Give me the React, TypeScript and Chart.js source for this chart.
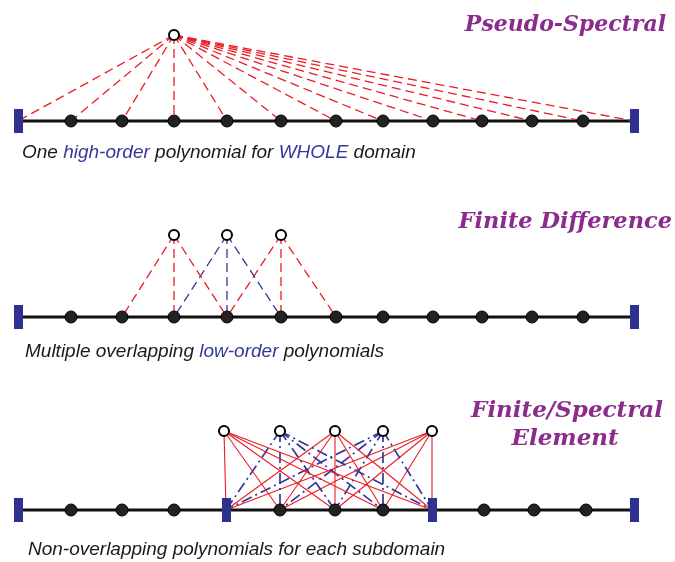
import React, { useEffect, useRef } from "react";
import { Chart, registerables } from "chart.js";

Chart.register(...registerables);

// ---- diagram data (diagram units, x to the right, y downward) ----
const domainEnds = [18, 634];
const gridNodes = [71, 122, 174, 227, 281, 336, 383, 433, 482, 532, 583];

// Panel 1: pseudo-spectral
const psAxisY = 121;
const psApex = { x: 174, y: 35 };

// Panel 2: finite difference
const fdAxisY = 317;
const fdTopY = 235;
const fdCenters = [174, 227, 281];
const fdStencils = [
  [122, 174, 227],
  [174, 227, 281],
  [227, 281, 336],
];

// Panel 3: finite / spectral element
const feAxisY = 510;
const feTopY = 431;
const feElementEnds = [226, 432];
const feInterior = [280, 335, 383];
const feOuterNodes = [71, 122, 174, 484, 534, 586];
const feTopX = [224, 280, 335, 383, 432];
const feTargets = [226, 280, 335, 383, 432];

const RED = "#ec1c24";
const BLUE = "#34399a";
const DARKBLUE = "#2e3192";
const PURPLE = "#8b2b8c";

function makeBar(): HTMLCanvasElement {
  const c = document.createElement("canvas");
  c.width = 9;
  c.height = 24;
  const g = c.getContext("2d")!;
  g.fillStyle = DARKBLUE;
  g.fillRect(0, 0, 9, 24);
  return c;
}

const textPlugin = {
  id: "diagramText",
  afterDraw(chart: any) {
    const ctx = chart.ctx;
    ctx.save();
    ctx.fillStyle = PURPLE;
    ctx.textBaseline = "alphabetic";
    ctx.textAlign = "right";
    ctx.font = "italic bold 22px 'DejaVu Serif'";
    ctx.fillText("Pseudo-Spectral", 666, 31);
    ctx.font = "italic bold 22.5px 'DejaVu Serif'";
    ctx.fillText("Finite Difference", 672, 228);
    ctx.textAlign = "center";
    ctx.font = "italic bold 23px 'DejaVu Serif'";
    ctx.fillText("Finite/Spectral", 567, 417);
    ctx.fillText("Element", 565, 445);

    ctx.textAlign = "left";
    ctx.font = "italic 19px 'Liberation Sans'";
    const runs = (parts: [string, string][], x: number, y: number) => {
      let cx = x;
      for (const [t, col] of parts) {
        ctx.fillStyle = col;
        ctx.fillText(t, cx, y);
        cx += ctx.measureText(t).width;
      }
    };
    const K = "#1a1a1a";
    runs(
      [
        ["One ", K],
        ["high-order", BLUE],
        [" polynomial for ", K],
        ["WHOLE", BLUE],
        [" domain", K],
      ],
      22,
      158
    );
    runs(
      [
        ["Multiple overlapping ", K],
        ["low-order", BLUE],
        [" polynomials", K],
      ],
      25,
      357
    );
    runs([["Non-overlapping polynomials for each subdomain", K]], 28, 555);
    ctx.restore();
  },
};

function seg(x1: number, y1: number, x2: number, y2: number, color: string, width: number, dash: number[], order: number) {
  return {
    type: "line",
    data: [
      { x: x1, y: y1 },
      { x: x2, y: y2 },
    ],
    borderColor: color,
    borderWidth: width,
    borderDash: dash,
    pointRadius: 0,
    showLine: true,
    fill: false,
    order,
    clip: false,
  };
}

export default function App() {
  const ref = useRef<HTMLCanvasElement>(null);
  useEffect(() => {
    const bar = makeBar();
    const datasets: any[] = [];
    const axis = (y: number) => seg(domainEnds[0], y, domainEnds[1], y, "#111", 3, [], 3);
    const dots = (xs: number[], y: number) => ({
      type: "scatter",
      data: xs.map((x) => ({ x, y })),
      pointRadius: 6,
      pointBackgroundColor: "#222",
      pointBorderColor: "#000",
      pointBorderWidth: 1,
      order: 0,
      clip: false,
    });
    const opens = (xs: number[], y: number) => ({
      type: "scatter",
      data: xs.map((x) => ({ x, y })),
      pointRadius: 5,
      pointBackgroundColor: "#fff",
      pointBorderColor: "#000",
      pointBorderWidth: 2,
      order: 0,
      clip: false,
    });
    const bars = (xs: number[], y: number) => ({
      type: "scatter",
      data: xs.map((x) => ({ x, y })),
      pointStyle: bar,
      pointRadius: 12,
      order: 1,
      clip: false,
    });

    // Panel 1
    datasets.push(axis(psAxisY));
    [domainEnds[0], ...gridNodes, domainEnds[1]].forEach((x) =>
      datasets.push(seg(psApex.x, psApex.y, x, psAxisY, RED, 1.3, [9, 5], 2))
    );
    datasets.push(dots(gridNodes, psAxisY));
    datasets.push(bars(domainEnds, psAxisY));
    datasets.push(opens([psApex.x], psApex.y));

    // Panel 2
    datasets.push(axis(fdAxisY));
    fdStencils.forEach((targets, i) => {
      const col = i % 2 === 0 ? RED : BLUE;
      targets.forEach((t) => datasets.push(seg(fdCenters[i], fdTopY, t, fdAxisY, col, 1.3, [9, 5], 2)));
    });
    datasets.push(dots(gridNodes, fdAxisY));
    datasets.push(bars(domainEnds, fdAxisY));
    datasets.push(opens(fdCenters, fdTopY));

    // Panel 3
    datasets.push(axis(feAxisY));
    feTopX.forEach((tx, i) => {
      const red = i % 2 === 0;
      feTargets.forEach((t) =>
        datasets.push(seg(tx, feTopY, t, feAxisY, red ? RED : BLUE, red ? 1.1 : 1.7, red ? [] : [11, 4, 2, 4], 2))
      );
    });
    datasets.push(dots([...feOuterNodes, ...feInterior], feAxisY));
    datasets.push(bars([domainEnds[0], ...feElementEnds, domainEnds[1]], feAxisY));
    datasets.push(opens(feTopX, feTopY));

    const chart = new Chart(ref.current!, {
      type: "scatter",
      data: { datasets },
      options: {
        animation: false,
        responsive: false,
        events: [],
        layout: { padding: 0, autoPadding: false },
        plugins: { legend: { display: false }, tooltip: { enabled: false } },
        scales: {
          x: { type: "linear", min: 0, max: 675, display: false },
          y: { type: "linear", min: 0, max: 562, reverse: true, display: false },
        },
      },
      plugins: [textPlugin],
    } as any);
    return () => chart.destroy();
  }, []);
  return (
    <div style={{ position: "fixed", left: 0, top: 0, width: 675, height: 562, background: "#fff" }}>
      <canvas ref={ref} width={675} height={562} style={{ display: "block" }} />
    </div>
  );
}
